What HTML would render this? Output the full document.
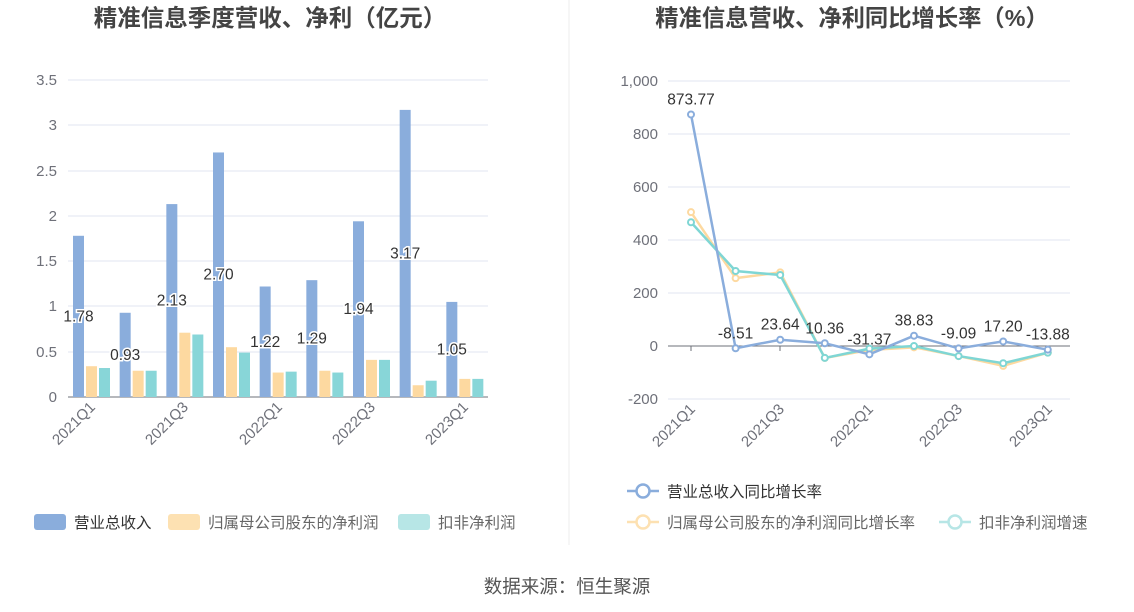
<!DOCTYPE html>
<html><head><meta charset="utf-8"><style>
body{margin:0;background:#fff;}
svg{display:block;font-family:"Liberation Sans","Noto Sans CJK SC",sans-serif;}
</style></head><body>
<svg width="1134" height="612" viewBox="0 0 1134 612">
<rect width="1134" height="612" fill="#fff"/>
<text x="270" y="26" text-anchor="middle" font-size="23.5" font-weight="bold" fill="#444">精准信息季度营收、净利（亿元）</text>
<text x="852" y="26" text-anchor="middle" font-size="23.3" font-weight="bold" fill="#444">精准信息营收、净利同比增长率（%）</text>
<line x1="569" y1="0" x2="569" y2="545" stroke="#eee"/>
<g stroke="#e0e6f1" stroke-width="1">
<line x1="68" x2="488" y1="80" y2="80"/><line x1="68" x2="488" y1="125" y2="125"/><line x1="68" x2="488" y1="171" y2="171"/><line x1="68" x2="488" y1="216" y2="216"/><line x1="68" x2="488" y1="261" y2="261"/><line x1="68" x2="488" y1="306" y2="306"/><line x1="68" x2="488" y1="352" y2="352"/>
</g>
<line x1="68" x2="488" y1="397" y2="397" stroke="#6e7079"/>
<g font-size="15" fill="#6e7079" text-anchor="end">
<text x="57" y="85">3.5</text><text x="57" y="130">3</text><text x="57" y="176">2.5</text><text x="57" y="221">2</text><text x="57" y="266">1.5</text><text x="57" y="311">1</text><text x="57" y="357">0.5</text><text x="57" y="402">0</text>
</g>
<g id="bars"></g>
<g font-size="15" fill="#6e7079" text-anchor="end">
<text transform="translate(96,408) rotate(-45)">2021Q1</text>
<text transform="translate(189,408) rotate(-45)">2021Q3</text>
<text transform="translate(283,408) rotate(-45)">2022Q1</text>
<text transform="translate(376,408) rotate(-45)">2022Q3</text>
<text transform="translate(469,408) rotate(-45)">2023Q1</text>
</g>
<g stroke="#e0e6f1">
<line x1="668" x2="1070" y1="81" y2="81"/><line x1="668" x2="1070" y1="134" y2="134"/><line x1="668" x2="1070" y1="187" y2="187"/><line x1="668" x2="1070" y1="240" y2="240"/><line x1="668" x2="1070" y1="293" y2="293"/><line x1="668" x2="1070" y1="399" y2="399"/>
</g>
<line x1="668" x2="1070" y1="346" y2="346" stroke="#6e7079"/>
<g stroke="#6e7079"><line x1="691" x2="691" y1="346" y2="351"/><line x1="780" x2="780" y1="346" y2="351"/><line x1="869" x2="869" y1="346" y2="351"/><line x1="958" x2="958" y1="346" y2="351"/><line x1="1048" x2="1048" y1="346" y2="351"/></g>
<g font-size="15" fill="#6e7079" text-anchor="end">
<text x="658" y="86">1,000</text><text x="658" y="139">800</text><text x="658" y="192">600</text><text x="658" y="245">400</text><text x="658" y="298">200</text><text x="658" y="351">0</text><text x="658" y="404">-200</text>
</g>
<g font-size="15" fill="#6e7079" text-anchor="end">
<text transform="translate(696,410) rotate(-45)">2021Q1</text>
<text transform="translate(785,410) rotate(-45)">2021Q3</text>
<text transform="translate(874,410) rotate(-45)">2022Q1</text>
<text transform="translate(963,410) rotate(-45)">2022Q3</text>
<text transform="translate(1053,410) rotate(-45)">2023Q1</text>
</g>
<g id="lines"></g>
<rect x="34" y="514" width="32" height="16" rx="3" fill="#8aaddc"/><text x="74" y="528" font-size="15.5" fill="#333">营业总收入</text>
<rect x="168" y="514" width="32" height="16" rx="3" fill="#fde1b2"/><text x="208" y="528" font-size="15.5" fill="#666">归属母公司股东的净利润</text>
<rect x="398" y="514" width="32" height="16" rx="3" fill="#b7e6e6"/><text x="438" y="528" font-size="15.5" fill="#666">扣非净利润</text>
<g fill="#fff" stroke-width="2.5">
<line x1="627" x2="659" y1="491" y2="491" stroke="#8aaddc"/><circle cx="643" cy="491" r="6.5" stroke="#8aaddc"/>
<line x1="627" x2="659" y1="522" y2="522" stroke="#fde1b2"/><circle cx="643" cy="522" r="6.5" stroke="#fde1b2"/>
<line x1="939" x2="971" y1="522" y2="522" stroke="#b7e6e6"/><circle cx="955" cy="522" r="6.5" stroke="#b7e6e6"/>
</g>
<text x="667" y="497" font-size="15.5" fill="#333">营业总收入同比增长率</text>
<text x="667" y="528" font-size="15.5" fill="#666">归属母公司股东的净利润同比增长率</text>
<text x="979" y="528" font-size="15.5" fill="#666">扣非净利润增速</text>
<text x="567" y="593" text-anchor="middle" font-size="18.5" fill="#555">数据来源：恒生聚源</text>
</svg>
<script>
var ns="http://www.w3.org/2000/svg";
function el(p,t,a,txt){var e=document.createElementNS(ns,t);for(var k in a)e.setAttribute(k,a[k]);if(txt!=null)e.textContent=txt;p.appendChild(e);return e;}
var rev=[1.78,0.93,2.13,2.70,1.22,1.29,1.94,3.17,1.05],np=[0.34,0.29,0.71,0.55,0.27,0.29,0.41,0.13,0.20],dn=[0.32,0.29,0.69,0.49,0.28,0.27,0.41,0.18,0.20];
var b=document.getElementById("bars"),k=90.57,w=420/9;
for(var i=0;i<9;i++){var x=68+i*w+5;
[[rev,"#8aaddc"],[np,"#fdd9a0"],[dn,"#88d6d8"]].forEach(function(s,j){var h=s[0][i]*k;el(b,"rect",{x:x+j*13,y:397-h,width:11,height:h,fill:s[1]});});
var h=rev[i]*k;el(b,"text",{x:x+5.5,y:397-h/2+5,"text-anchor":"middle","font-size":15.5,fill:"#333",stroke:"#fff","stroke-width":3,"paint-order":"stroke"},rev[i].toFixed(2));}
var L=document.getElementById("lines");
var r=[873.77,-8.51,23.64,10.36,-31.37,38.83,-9.09,17.20,-13.88],o=[505,256,278,-45,-15,-5,-38,-75,-25],t=[467,283,268,-45,-10,0,-38,-65,-25];
function X(i){return 691+i*44.6;}function Y(v){return 346-v*0.265;}
[[o,"#fdd9a0"],[t,"#7fd6d4"],[r,"#8aaddc"]].forEach(function(s){var p=s[0].map(function(v,i){return X(i)+","+Y(v);}).join(" ");
el(L,"polyline",{points:p,fill:"none",stroke:s[1],"stroke-width":2.5});
s[0].forEach(function(v,i){el(L,"circle",{cx:X(i),cy:Y(v),r:3,fill:"#fff",stroke:s[1],"stroke-width":2});});});
r.forEach(function(v,i){el(L,"text",{x:X(i),y:Y(v)-10,"text-anchor":"middle","font-size":15.5,fill:"#333"},v.toFixed(2));});
</script>
</body></html>
